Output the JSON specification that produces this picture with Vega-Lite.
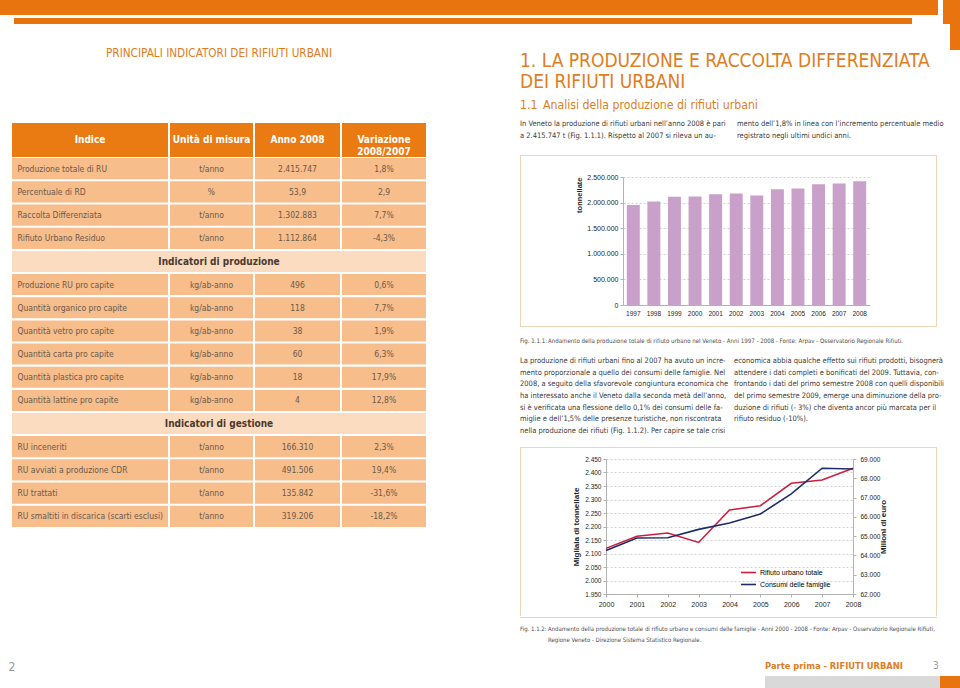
{
"$schema": "https://vega.github.io/schema/vega-lite/v6.json",
"padding": 0,
"background": "white",
"spacing": 0,
"config": {
  "view": {"stroke": null},
  "concat": {"spacing": 0},
  "locale": {"number": {"decimal": ",", "thousands": ".", "grouping": [3], "currency": ["", " €"]}},
  "text": {"font": "Liberation Sans Narrow, DejaVu Sans Condensed, Liberation Sans, sans-serif"},
  "axis": {"labelFont": "Liberation Sans, sans-serif", "titleFont": "Liberation Sans, sans-serif", "labelColor": "#262626", "titleColor": "#262626", "titleFontWeight": "bold", "titleFontSize": 8, "domainColor": "#b3b3b3", "tickColor": "#b3b3b3", "tickSize": 3, "labelPadding": 2, "gridColor": "#c4c4c4", "gridDash": [2, 2], "gridWidth": 0.8},
  "legend": {"labelFont": "Liberation Sans, sans-serif"}
},
"datasets": {
  "vuoto": [{}],
  "titolo": [{"t": "PRINCIPALI INDICATORI DEI RIFIUTI URBANI"}],
  "intestazione": [
    {"col": 1, "etichetta": "Indice"},
    {"col": 2, "etichetta": "Unità di misura"},
    {"col": 3, "etichetta": "Anno 2008"},
    {"col": 4, "etichetta": ["Variazione", "2008/2007"]}
  ],
  "tabella": [
    {"r": 1, "tipo": "dato", "indice": "Produzione totale di RU", "unita": "t/anno", "anno": "2.415.747", "var": "1,8%", "sezione": ""},
    {"r": 2, "tipo": "dato", "indice": "Percentuale di RD", "unita": "%", "anno": "53,9", "var": "2,9", "sezione": ""},
    {"r": 3, "tipo": "dato", "indice": "Raccolta Differenziata", "unita": "t/anno", "anno": "1.302.883", "var": "7,7%", "sezione": ""},
    {"r": 4, "tipo": "dato", "indice": "Rifiuto Urbano Residuo", "unita": "t/anno", "anno": "1.112.864", "var": "-4,3%", "sezione": ""},
    {"r": 5, "tipo": "sezione", "indice": "", "unita": "", "anno": "", "var": "", "sezione": "Indicatori di produzione"},
    {"r": 6, "tipo": "dato", "indice": "Produzione RU pro capite", "unita": "kg/ab-anno", "anno": "496", "var": "0,6%", "sezione": ""},
    {"r": 7, "tipo": "dato", "indice": "Quantità organico pro capite", "unita": "kg/ab-anno", "anno": "118", "var": "7,7%", "sezione": ""},
    {"r": 8, "tipo": "dato", "indice": "Quantità vetro pro capite", "unita": "kg/ab-anno", "anno": "38", "var": "1,9%", "sezione": ""},
    {"r": 9, "tipo": "dato", "indice": "Quantità carta pro capite", "unita": "kg/ab-anno", "anno": "60", "var": "6,3%", "sezione": ""},
    {"r": 10, "tipo": "dato", "indice": "Quantità plastica pro capite", "unita": "kg/ab-anno", "anno": "18", "var": "17,9%", "sezione": ""},
    {"r": 11, "tipo": "dato", "indice": "Quantità lattine pro capite", "unita": "kg/ab-anno", "anno": "4", "var": "12,8%", "sezione": ""},
    {"r": 12, "tipo": "sezione", "indice": "", "unita": "", "anno": "", "var": "", "sezione": "Indicatori di gestione"},
    {"r": 13, "tipo": "dato", "indice": "RU inceneriti", "unita": "t/anno", "anno": "166.310", "var": "2,3%", "sezione": ""},
    {"r": 14, "tipo": "dato", "indice": "RU avviati a produzione CDR", "unita": "t/anno", "anno": "491.506", "var": "19,4%", "sezione": ""},
    {"r": 15, "tipo": "dato", "indice": "RU trattati", "unita": "t/anno", "anno": "135.842", "var": "-31,6%", "sezione": ""},
    {"r": 16, "tipo": "dato", "indice": "RU smaltiti in discarica (scarti esclusi)", "unita": "t/anno", "anno": "319.206", "var": "-18,2%", "sezione": ""}
  ],
  "capitolo": [
    {"c": "a", "l": 1, "t": "1. LA PRODUZIONE E RACCOLTA DIFFERENZIATA"},
    {"c": "a", "l": 2, "t": "DEI RIFIUTI URBANI"}
  ],
  "paragrafo": [
    {"c": "a", "l": 1, "t": "1.1"},
    {"c": "b", "l": 1, "t": "Analisi della produzione di rifiuti urbani"}
  ],
  "testo1": [
    {"c": "a", "l": 1, "t": "In Veneto la produzione di rifiuti urbani nell’anno 2008 è pari"},
    {"c": "a", "l": 2, "t": "a 2.415.747 t (Fig. 1.1.1). Rispetto al 2007 si rileva un au-"},
    {"c": "b", "l": 1, "t": "mento dell’1,8% in linea con l’incremento percentuale medio"},
    {"c": "b", "l": 2, "t": "registrato negli ultimi undici anni."}
  ],
  "didascalia1": [
    {"c": "a", "l": 1, "t": "Fig. 1.1.1:"},
    {"c": "b", "l": 1, "t": "Andamento della produzione totale di rifiuto urbano nel Veneto - Anni 1997 - 2008 - Fonte: Arpav - Osservatorio Regionale Rifiuti."}
  ],
  "testo2": [
    {"c": "a", "l": 1, "t": "La produzione di rifiuti urbani fino al 2007 ha avuto un incre-"},
    {"c": "a", "l": 2, "t": "mento proporzionale a quello dei consumi delle famiglie. Nel"},
    {"c": "a", "l": 3, "t": "2008, a seguito della sfavorevole congiuntura economica che"},
    {"c": "a", "l": 4, "t": "ha interessato anche il Veneto dalla seconda metà dell’anno,"},
    {"c": "a", "l": 5, "t": "si è verificata una flessione dello 0,1% dei consumi delle fa-"},
    {"c": "a", "l": 6, "t": "miglie e dell’1,5% delle presenze turistiche, non riscontrata"},
    {"c": "a", "l": 7, "t": "nella produzione dei rifiuti (Fig. 1.1.2). Per capire se tale crisi"},
    {"c": "b", "l": 1, "t": "economica abbia qualche effetto sui rifiuti prodotti, bisognerà"},
    {"c": "b", "l": 2, "t": "attendere i dati completi e bonificati del 2009. Tuttavia, con-"},
    {"c": "b", "l": 3, "t": "frontando i dati del primo semestre 2008 con quelli disponibili"},
    {"c": "b", "l": 4, "t": "del primo semestre 2009, emerge una diminuzione della pro-"},
    {"c": "b", "l": 5, "t": "duzione di rifiuti (- 3%) che diventa ancor più marcata per il"},
    {"c": "b", "l": 6, "t": "rifiuto residuo (-10%)."}
  ],
  "didascalia2": [
    {"c": "a", "l": 1, "t": "Fig. 1.1.2:"},
    {"c": "b", "l": 1, "t": "Andamento della produzione totale di rifiuto urbano e consumi delle famiglie - Anni 2000 - 2008 - Fonte: Arpav - Osservatorio Regionale Rifiuti,"},
    {"c": "b", "l": 2, "t": "Regione Veneto - Direzione Sistema Statistico Regionale."}
  ],
  "piede": [
    {"c": "a", "l": 1, "t": "Parte prima - RIFIUTI URBANI"},
    {"c": "b", "l": 1, "t": "3"}
  ],
  "pagina": [{"t": "2"}],
  "barre": [
    {"anno": 1997, "tonnellate": 1951000},
    {"anno": 1998, "tonnellate": 2022000},
    {"anno": 1999, "tonnellate": 2113000},
    {"anno": 2000, "tonnellate": 2120000},
    {"anno": 2001, "tonnellate": 2163000},
    {"anno": 2002, "tonnellate": 2176000},
    {"anno": 2003, "tonnellate": 2141000},
    {"anno": 2004, "tonnellate": 2261000},
    {"anno": 2005, "tonnellate": 2277000},
    {"anno": 2006, "tonnellate": 2359000},
    {"anno": 2007, "tonnellate": 2372000},
    {"anno": 2008, "tonnellate": 2415747}
  ],
  "linee": [
    {"anno": 2000, "serie": "Rifiuto urbano totale", "valore": 2119},
    {"anno": 2001, "serie": "Rifiuto urbano totale", "valore": 2164},
    {"anno": 2002, "serie": "Rifiuto urbano totale", "valore": 2176},
    {"anno": 2003, "serie": "Rifiuto urbano totale", "valore": 2141},
    {"anno": 2004, "serie": "Rifiuto urbano totale", "valore": 2261},
    {"anno": 2005, "serie": "Rifiuto urbano totale", "valore": 2277},
    {"anno": 2006, "serie": "Rifiuto urbano totale", "valore": 2360},
    {"anno": 2007, "serie": "Rifiuto urbano totale", "valore": 2372},
    {"anno": 2008, "serie": "Rifiuto urbano totale", "valore": 2416},
    {"anno": 2000, "serie": "Consumi delle famiglie", "valore": 64250},
    {"anno": 2001, "serie": "Consumi delle famiglie", "valore": 64900},
    {"anno": 2002, "serie": "Consumi delle famiglie", "valore": 64920},
    {"anno": 2003, "serie": "Consumi delle famiglie", "valore": 65350},
    {"anno": 2004, "serie": "Consumi delle famiglie", "valore": 65680},
    {"anno": 2005, "serie": "Consumi delle famiglie", "valore": 66150},
    {"anno": 2006, "serie": "Consumi delle famiglie", "valore": 67190},
    {"anno": 2007, "serie": "Consumi delle famiglie", "valore": 68520},
    {"anno": 2008, "serie": "Consumi delle famiglie", "valore": 68480}
  ]
},
"vconcat": [
  {"hconcat": [
    {"vconcat": [
      {"width": 938, "height": 15, "data": {"name": "vuoto"}, "mark": {"type": "rect", "color": "#e8740f"}, "encoding": {}},
      {"width": 1, "height": 3, "data": {"name": "vuoto"}, "mark": {"type": "rect", "opacity": 0}, "encoding": {}},
      {"hconcat": [
        {"width": 14, "height": 6, "data": {"name": "vuoto"}, "mark": {"type": "rect", "opacity": 0}, "encoding": {}},
        {"width": 898, "height": 6, "data": {"name": "vuoto"}, "mark": {"type": "rect", "color": "#e8740f"}, "encoding": {}}
      ]}
    ]},
    {"width": 5, "height": 24, "data": {"name": "vuoto"}, "mark": {"type": "rect", "opacity": 0}, "encoding": {}},
    {"width": 17, "height": 24, "data": {"name": "vuoto"}, "mark": {"type": "rect", "color": "#e8740f"}, "encoding": {}}
  ]},
  {"hconcat": [
    {"width": 12, "height": 1, "data": {"name": "vuoto"}, "mark": {"type": "rect", "opacity": 0}, "encoding": {}},
    {"vconcat": [
      {"width": 1, "height": 22, "data": {"name": "vuoto"}, "mark": {"type": "rect", "opacity": 0}, "encoding": {}},
      {"width": 414, "height": 14, "data": {"name": "titolo"}, "mark": {"type": "text", "fontSize": 11.7, "color": "#e07d22", "baseline": "middle", "align": "center"}, "encoding": {"text": {"field": "t"}}},
      {"width": 1, "height": 63, "data": {"name": "vuoto"}, "mark": {"type": "rect", "opacity": 0}, "encoding": {}},
      {"spacing": 2, "hconcat": [
        {"width": 156, "height": 34, "data": {"name": "intestazione"}, "transform": [{"filter": "datum.col === 1"}], "layer": [
          {"mark": {"type": "rect", "color": "#ea7a12"}, "encoding": {}},
          {"mark": {"type": "text", "color": "white", "fontWeight": "bold", "fontSize": 10, "lineHeight": 12, "baseline": "middle"}, "encoding": {"text": {"field": "etichetta"}}}
        ]},
        {"width": 83, "height": 34, "data": {"name": "intestazione"}, "transform": [{"filter": "datum.col === 2"}], "layer": [
          {"mark": {"type": "rect", "color": "#ea7a12"}, "encoding": {}},
          {"mark": {"type": "text", "color": "white", "fontWeight": "bold", "fontSize": 10, "lineHeight": 12, "baseline": "middle"}, "encoding": {"text": {"field": "etichetta"}}}
        ]},
        {"width": 85, "height": 34, "data": {"name": "intestazione"}, "transform": [{"filter": "datum.col === 3"}], "layer": [
          {"mark": {"type": "rect", "color": "#ea7a12"}, "encoding": {}},
          {"mark": {"type": "text", "color": "white", "fontWeight": "bold", "fontSize": 10, "lineHeight": 12, "baseline": "middle"}, "encoding": {"text": {"field": "etichetta"}}}
        ]},
        {"width": 84, "height": 34, "data": {"name": "intestazione"}, "transform": [{"filter": "datum.col === 4"}], "layer": [
          {"mark": {"type": "rect", "color": "#ea7a12"}, "encoding": {}},
          {"mark": {"type": "text", "color": "white", "fontWeight": "bold", "fontSize": 10, "lineHeight": 12, "baseline": "middle"}, "encoding": {"text": {"field": "etichetta"}}}
        ]}
      ]},
      {"vconcat": [
        {"spacing": 2, "hconcat": [
          {"width": 156, "height": 93, "data": {"name": "tabella"}, "transform": [{"filter": "datum.r <= 4"}], "layer": [
            {"mark": {"type": "rect", "color": "#f7bd8b"}, "encoding": {"y": {"field": "r", "type": "ordinal", "axis": null, "scale": {"paddingInner": 0.09, "paddingOuter": 0.045}}}},
            {"mark": {"type": "text", "align": "left", "baseline": "middle", "fontSize": 8.5, "color": "#6a5a4c"}, "encoding": {
              "x": {"field": "tipo", "type": "nominal", "axis": null, "scale": {"type": "point", "padding": 0, "align": 0.035}},
              "y": {"field": "r", "type": "ordinal", "axis": null}, "text": {"field": "indice"}}}
          ]},
          {"width": 83, "height": 93, "data": {"name": "tabella"}, "transform": [{"filter": "datum.r <= 4"}], "layer": [
            {"mark": {"type": "rect", "color": "#f7bd8b"}, "encoding": {"y": {"field": "r", "type": "ordinal", "axis": null, "scale": {"paddingInner": 0.09, "paddingOuter": 0.045}}}},
            {"mark": {"type": "text", "align": "center", "baseline": "middle", "fontSize": 8.5, "color": "#6a5a4c"}, "encoding": {"y": {"field": "r", "type": "ordinal", "axis": null}, "text": {"field": "unita"}}}
          ]},
          {"width": 85, "height": 93, "data": {"name": "tabella"}, "transform": [{"filter": "datum.r <= 4"}], "layer": [
            {"mark": {"type": "rect", "color": "#f7bd8b"}, "encoding": {"y": {"field": "r", "type": "ordinal", "axis": null, "scale": {"paddingInner": 0.09, "paddingOuter": 0.045}}}},
            {"mark": {"type": "text", "align": "center", "baseline": "middle", "fontSize": 8.5, "color": "#6a5a4c"}, "encoding": {"y": {"field": "r", "type": "ordinal", "axis": null}, "text": {"field": "anno"}}}
          ]},
          {"width": 84, "height": 93, "data": {"name": "tabella"}, "transform": [{"filter": "datum.r <= 4"}], "layer": [
            {"mark": {"type": "rect", "color": "#f7bd8b"}, "encoding": {"y": {"field": "r", "type": "ordinal", "axis": null, "scale": {"paddingInner": 0.09, "paddingOuter": 0.045}}}},
            {"mark": {"type": "text", "align": "center", "baseline": "middle", "fontSize": 8.5, "color": "#6a5a4c"}, "encoding": {"y": {"field": "r", "type": "ordinal", "axis": null}, "text": {"field": "var"}}}
          ]}
        ]},
        {"width": 414, "height": 23, "data": {"name": "tabella"}, "transform": [{"filter": "datum.r === 5"}], "layer": [
          {"mark": {"type": "rect", "color": "#fbdcc0"}, "encoding": {"y": {"field": "r", "type": "ordinal", "axis": null, "scale": {"paddingInner": 0.09, "paddingOuter": 0.045}}}},
          {"mark": {"type": "text", "align": "center", "baseline": "middle", "fontSize": 10, "fontWeight": "bold", "color": "#4a3a2e"}, "encoding": {"y": {"field": "r", "type": "ordinal", "axis": null}, "text": {"field": "sezione"}}}
        ]},
        {"spacing": 2, "hconcat": [
          {"width": 156, "height": 139, "data": {"name": "tabella"}, "transform": [{"filter": "datum.r >= 6 && datum.r <= 11"}], "layer": [
            {"mark": {"type": "rect", "color": "#f7bd8b"}, "encoding": {"y": {"field": "r", "type": "ordinal", "axis": null, "scale": {"paddingInner": 0.09, "paddingOuter": 0.045}}}},
            {"mark": {"type": "text", "align": "left", "baseline": "middle", "fontSize": 8.5, "color": "#6a5a4c"}, "encoding": {
              "x": {"field": "tipo", "type": "nominal", "axis": null, "scale": {"type": "point", "padding": 0, "align": 0.035}},
              "y": {"field": "r", "type": "ordinal", "axis": null}, "text": {"field": "indice"}}}
          ]},
          {"width": 83, "height": 139, "data": {"name": "tabella"}, "transform": [{"filter": "datum.r >= 6 && datum.r <= 11"}], "layer": [
            {"mark": {"type": "rect", "color": "#f7bd8b"}, "encoding": {"y": {"field": "r", "type": "ordinal", "axis": null, "scale": {"paddingInner": 0.09, "paddingOuter": 0.045}}}},
            {"mark": {"type": "text", "align": "center", "baseline": "middle", "fontSize": 8.5, "color": "#6a5a4c"}, "encoding": {"y": {"field": "r", "type": "ordinal", "axis": null}, "text": {"field": "unita"}}}
          ]},
          {"width": 85, "height": 139, "data": {"name": "tabella"}, "transform": [{"filter": "datum.r >= 6 && datum.r <= 11"}], "layer": [
            {"mark": {"type": "rect", "color": "#f7bd8b"}, "encoding": {"y": {"field": "r", "type": "ordinal", "axis": null, "scale": {"paddingInner": 0.09, "paddingOuter": 0.045}}}},
            {"mark": {"type": "text", "align": "center", "baseline": "middle", "fontSize": 8.5, "color": "#6a5a4c"}, "encoding": {"y": {"field": "r", "type": "ordinal", "axis": null}, "text": {"field": "anno"}}}
          ]},
          {"width": 84, "height": 139, "data": {"name": "tabella"}, "transform": [{"filter": "datum.r >= 6 && datum.r <= 11"}], "layer": [
            {"mark": {"type": "rect", "color": "#f7bd8b"}, "encoding": {"y": {"field": "r", "type": "ordinal", "axis": null, "scale": {"paddingInner": 0.09, "paddingOuter": 0.045}}}},
            {"mark": {"type": "text", "align": "center", "baseline": "middle", "fontSize": 8.5, "color": "#6a5a4c"}, "encoding": {"y": {"field": "r", "type": "ordinal", "axis": null}, "text": {"field": "var"}}}
          ]}
        ]},
        {"width": 414, "height": 23, "data": {"name": "tabella"}, "transform": [{"filter": "datum.r === 12"}], "layer": [
          {"mark": {"type": "rect", "color": "#fbdcc0"}, "encoding": {"y": {"field": "r", "type": "ordinal", "axis": null, "scale": {"paddingInner": 0.09, "paddingOuter": 0.045}}}},
          {"mark": {"type": "text", "align": "center", "baseline": "middle", "fontSize": 10, "fontWeight": "bold", "color": "#4a3a2e"}, "encoding": {"y": {"field": "r", "type": "ordinal", "axis": null}, "text": {"field": "sezione"}}}
        ]},
        {"spacing": 2, "hconcat": [
          {"width": 156, "height": 93, "data": {"name": "tabella"}, "transform": [{"filter": "datum.r >= 13"}], "layer": [
            {"mark": {"type": "rect", "color": "#f7bd8b"}, "encoding": {"y": {"field": "r", "type": "ordinal", "axis": null, "scale": {"paddingInner": 0.09, "paddingOuter": 0.045}}}},
            {"mark": {"type": "text", "align": "left", "baseline": "middle", "fontSize": 8.5, "color": "#6a5a4c"}, "encoding": {
              "x": {"field": "tipo", "type": "nominal", "axis": null, "scale": {"type": "point", "padding": 0, "align": 0.035}},
              "y": {"field": "r", "type": "ordinal", "axis": null}, "text": {"field": "indice"}}}
          ]},
          {"width": 83, "height": 93, "data": {"name": "tabella"}, "transform": [{"filter": "datum.r >= 13"}], "layer": [
            {"mark": {"type": "rect", "color": "#f7bd8b"}, "encoding": {"y": {"field": "r", "type": "ordinal", "axis": null, "scale": {"paddingInner": 0.09, "paddingOuter": 0.045}}}},
            {"mark": {"type": "text", "align": "center", "baseline": "middle", "fontSize": 8.5, "color": "#6a5a4c"}, "encoding": {"y": {"field": "r", "type": "ordinal", "axis": null}, "text": {"field": "unita"}}}
          ]},
          {"width": 85, "height": 93, "data": {"name": "tabella"}, "transform": [{"filter": "datum.r >= 13"}], "layer": [
            {"mark": {"type": "rect", "color": "#f7bd8b"}, "encoding": {"y": {"field": "r", "type": "ordinal", "axis": null, "scale": {"paddingInner": 0.09, "paddingOuter": 0.045}}}},
            {"mark": {"type": "text", "align": "center", "baseline": "middle", "fontSize": 8.5, "color": "#6a5a4c"}, "encoding": {"y": {"field": "r", "type": "ordinal", "axis": null}, "text": {"field": "anno"}}}
          ]},
          {"width": 84, "height": 93, "data": {"name": "tabella"}, "transform": [{"filter": "datum.r >= 13"}], "layer": [
            {"mark": {"type": "rect", "color": "#f7bd8b"}, "encoding": {"y": {"field": "r", "type": "ordinal", "axis": null, "scale": {"paddingInner": 0.09, "paddingOuter": 0.045}}}},
            {"mark": {"type": "text", "align": "center", "baseline": "middle", "fontSize": 8.5, "color": "#6a5a4c"}, "encoding": {"y": {"field": "r", "type": "ordinal", "axis": null}, "text": {"field": "var"}}}
          ]}
        ]}
      ]}
    ]},
    {"width": 94, "height": 1, "data": {"name": "vuoto"}, "mark": {"type": "rect", "opacity": 0}, "encoding": {}},
    {"vconcat": [
      {"width": 1, "height": 26, "data": {"name": "vuoto"}, "mark": {"type": "rect", "opacity": 0}, "encoding": {}},
      {"width": 417, "height": 42, "data": {"name": "capitolo"}, "mark": {"type": "text", "align": "left", "baseline": "middle", "fontSize": 19, "color": "#e07d22"}, "encoding": {
        "x": {"field": "c", "type": "nominal", "axis": null, "scale": {"type": "point", "padding": 0, "align": 0}},
        "y": {"field": "l", "type": "ordinal", "axis": null},
        "text": {"field": "t"}
      }},
      {"width": 23, "height": 26, "data": {"name": "paragrafo"}, "mark": {"type": "text", "align": "left", "baseline": "middle", "fontSize": 12.2, "color": "#e07d22"}, "encoding": {
        "x": {"field": "c", "type": "nominal", "axis": null, "scale": {"type": "point", "padding": 0, "align": 0}},
        "y": {"field": "l", "type": "ordinal", "axis": null},
        "text": {"field": "t"}
      }},
      {"width": 217, "height": 24, "data": {"name": "testo1"}, "mark": {"type": "text", "align": "left", "baseline": "middle", "fontSize": 7.5, "color": "#3a3a3a"}, "encoding": {
        "x": {"field": "c", "type": "nominal", "axis": null, "scale": {"type": "point", "padding": 0, "align": 0}},
        "y": {"field": "l", "type": "ordinal", "axis": null},
        "text": {"field": "t"}
      }},
      {"width": 1, "height": 13, "data": {"name": "vuoto"}, "mark": {"type": "rect", "opacity": 0}, "encoding": {}},
      {"vconcat": [
        {"width": 417, "height": 1, "data": {"name": "vuoto"}, "mark": {"type": "rect", "color": "#eed5b5"}, "encoding": {}},
        {"hconcat": [
          {"width": 1, "height": 170, "data": {"name": "vuoto"}, "mark": {"type": "rect", "color": "#eed5b5"}, "encoding": {}},
          {"vconcat": [
            {"width": 1, "height": 17, "data": {"name": "vuoto"}, "mark": {"type": "rect", "opacity": 0}, "encoding": {}},
            {"hconcat": [
              {"width": 54, "height": 1, "data": {"name": "vuoto"}, "mark": {"type": "rect", "opacity": 0}, "encoding": {}},
              {"width": 247, "height": 128, "data": {"name": "barre"}, "mark": {"type": "bar", "color": "#c9a0c9"}, "encoding": {
                "x": {"field": "anno", "type": "ordinal", "scale": {"paddingInner": 0.37, "paddingOuter": 0.185}, "axis": {"title": null, "ticks": false, "labelAngle": 0, "labelFontSize": 6.5, "labelPadding": 5}},
                "y": {"field": "tonnellate", "type": "quantitative", "scale": {"domain": [0, 2500000], "nice": false}, "axis": {"title": "tonnellate", "titleAnchor": "end", "titleFontSize": 7.5, "titlePadding": 4, "minExtent": 36, "maxExtent": 36, "format": ",.0f", "tickCount": 5, "labelFontSize": 7, "grid": true}}
              }},
              {"width": 66, "height": 1, "data": {"name": "vuoto"}, "mark": {"type": "rect", "opacity": 0}, "encoding": {}}
            ]},
            {"width": 1, "height": 8, "data": {"name": "vuoto"}, "mark": {"type": "rect", "opacity": 0}, "encoding": {}}
          ]},
          {"width": 1, "height": 170, "data": {"name": "vuoto"}, "mark": {"type": "rect", "color": "#eed5b5"}, "encoding": {}}
        ]},
        {"width": 417, "height": 1, "data": {"name": "vuoto"}, "mark": {"type": "rect", "color": "#eed5b5"}, "encoding": {}}
      ]},
      {"width": 28, "height": 28, "data": {"name": "didascalia1"}, "mark": {"type": "text", "align": "left", "baseline": "middle", "fontSize": 6.1, "color": "#4d4d4d"}, "encoding": {
        "x": {"field": "c", "type": "nominal", "axis": null, "scale": {"type": "point", "padding": 0, "align": 0}},
        "y": {"field": "l", "type": "ordinal", "axis": null},
        "text": {"field": "t"}
      }},
      {"width": 214, "height": 82, "data": {"name": "testo2"}, "mark": {"type": "text", "align": "left", "baseline": "middle", "fontSize": 7.5, "color": "#3a3a3a"}, "encoding": {
        "x": {"field": "c", "type": "nominal", "axis": null, "scale": {"type": "point", "padding": 0, "align": 0}},
        "y": {"field": "l", "type": "ordinal", "axis": null},
        "text": {"field": "t"}
      }},
      {"width": 1, "height": 10, "data": {"name": "vuoto"}, "mark": {"type": "rect", "opacity": 0}, "encoding": {}},
      {"vconcat": [
        {"width": 417, "height": 1, "data": {"name": "vuoto"}, "mark": {"type": "rect", "color": "#eed5b5"}, "encoding": {}},
        {"hconcat": [
          {"width": 1, "height": 168, "data": {"name": "vuoto"}, "mark": {"type": "rect", "color": "#eed5b5"}, "encoding": {}},
          {"vconcat": [
            {"width": 1, "height": 8, "data": {"name": "vuoto"}, "mark": {"type": "rect", "opacity": 0}, "encoding": {}},
            {"hconcat": [
              {"width": 51, "height": 1, "data": {"name": "vuoto"}, "mark": {"type": "rect", "opacity": 0}, "encoding": {}},
              {"width": 247, "height": 135, "data": {"name": "linee"}, "layer": [
                {"transform": [{"filter": "datum.serie === 'Rifiuto urbano totale'"}], "mark": {"type": "line", "strokeWidth": 1.6}, "encoding": {
                  "x": {"field": "anno", "type": "ordinal", "scale": {"type": "point", "padding": 0}, "axis": {"title": null, "labelAngle": 0, "labelFontSize": 7, "labelPadding": 3}},
                  "y": {"field": "valore", "type": "quantitative", "scale": {"domain": [1950, 2450], "nice": false, "zero": false}, "axis": {"title": "Migliaia di tonnellate", "format": ",.0f", "tickCount": 10, "labelFontSize": 6.5, "minExtent": 22, "maxExtent": 22, "titlePadding": 4, "grid": true}},
                  "color": {"field": "serie", "type": "nominal", "scale": {"domain": ["Rifiuto urbano totale", "Consumi delle famiglie"], "range": ["#cc1f40", "#1f2c6c"]}, "legend": {"title": null, "orient": "none", "legendX": 740, "legendY": 564, "symbolType": "stroke", "symbolSize": 225, "symbolStrokeWidth": 1.6, "labelFontSize": 7, "labelOffset": 3, "rowPadding": -6, "padding": 0}}
                }},
                {"transform": [{"filter": "datum.serie === 'Consumi delle famiglie'"}], "mark": {"type": "line", "strokeWidth": 1.6}, "encoding": {
                  "x": {"field": "anno", "type": "ordinal", "scale": {"type": "point", "padding": 0}},
                  "y": {"field": "valore", "type": "quantitative", "scale": {"domain": [62000, 69000], "nice": false, "zero": false}, "axis": {"orient": "right", "title": "Milioni di euro", "titleAngle": -90, "titleBaseline": "top", "format": ",.0f", "tickCount": 7, "labelFontSize": 6.5, "labelPadding": 4, "minExtent": 22, "maxExtent": 22, "titlePadding": 4, "grid": false}},
                  "color": {"field": "serie", "type": "nominal"}
                }}
              ], "resolve": {"scale": {"y": "independent"}}},
              {"width": 49, "height": 1, "data": {"name": "vuoto"}, "mark": {"type": "rect", "opacity": 0}, "encoding": {}}
            ]},
            {"width": 1, "height": 10, "data": {"name": "vuoto"}, "mark": {"type": "rect", "opacity": 0}, "encoding": {}}
          ]},
          {"width": 1, "height": 168, "data": {"name": "vuoto"}, "mark": {"type": "rect", "color": "#eed5b5"}, "encoding": {}}
        ]},
        {"width": 417, "height": 1, "data": {"name": "vuoto"}, "mark": {"type": "rect", "color": "#eed5b5"}, "encoding": {}}
      ]},
      {"width": 1, "height": 5, "data": {"name": "vuoto"}, "mark": {"type": "rect", "opacity": 0}, "encoding": {}},
      {"width": 28, "height": 22, "data": {"name": "didascalia2"}, "mark": {"type": "text", "align": "left", "baseline": "middle", "fontSize": 6, "color": "#4d4d4d"}, "encoding": {
        "x": {"field": "c", "type": "nominal", "axis": null, "scale": {"type": "point", "padding": 0, "align": 0}},
        "y": {"field": "l", "type": "ordinal", "axis": null},
        "text": {"field": "t"}
      }}
    ]},
    {"width": 6, "height": 1, "data": {"name": "vuoto"}, "mark": {"type": "rect", "opacity": 0}, "encoding": {}},
    {"width": 17, "height": 26, "data": {"name": "vuoto"}, "mark": {"type": "rect", "color": "#e8740f"}, "encoding": {}}
  ]},
  {"hconcat": [
    {"width": 24, "height": 44, "data": {"name": "pagina"}, "mark": {"type": "text", "align": "center", "baseline": "middle", "fontSize": 12, "color": "#9a9a9a"}, "encoding": {"text": {"field": "t"}}},
    {"width": 741, "height": 1, "data": {"name": "vuoto"}, "mark": {"type": "rect", "opacity": 0}, "encoding": {}},
    {"vconcat": [
      {"width": 1, "height": 12, "data": {"name": "vuoto"}, "mark": {"type": "rect", "opacity": 0}, "encoding": {}},
      {"width": 168, "height": 18, "data": {"name": "piede"}, "layer": [
        {"transform": [{"filter": "datum.c === 'a'"}], "mark": {"type": "text", "align": "left", "baseline": "middle", "fontSize": 9.3, "fontWeight": "bold", "color": "#e07d22"}, "encoding": {
          "x": {"field": "c", "type": "nominal", "axis": null, "scale": {"type": "point", "padding": 0, "align": 0}},
          "text": {"field": "t"}
        }},
        {"transform": [{"filter": "datum.c === 'b'"}], "mark": {"type": "text", "align": "left", "baseline": "middle", "fontSize": 10, "color": "#9a9a9a"}, "encoding": {
          "x": {"field": "c", "type": "nominal", "axis": null, "scale": {"type": "point", "padding": 0, "align": 0}},
          "text": {"field": "t"}
        }}
      ]},
      {"width": 1, "height": 1, "data": {"name": "vuoto"}, "mark": {"type": "rect", "opacity": 0}, "encoding": {}},
      {"hconcat": [
        {"width": 175, "height": 13, "data": {"name": "vuoto"}, "mark": {"type": "rect", "color": "#d9d9d9"}, "encoding": {}},
        {"width": 20, "height": 13, "data": {"name": "vuoto"}, "mark": {"type": "rect", "color": "#e8740f"}, "encoding": {}}
      ]}
    ]}
  ]}
]
}
